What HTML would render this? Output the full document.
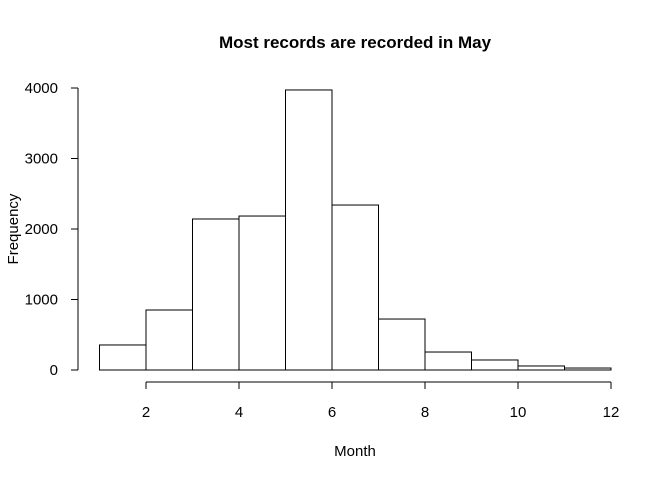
<!DOCTYPE html>
<html><head><meta charset="utf-8"><style>
body{margin:0;background:#fff}
svg text{font-family:"Liberation Sans",Arial,sans-serif;fill:#000}
</style></head><body>
<svg width="672" height="480" viewBox="0 0 672 480">
<rect width="672" height="480" fill="#fff"/>
<text x="355" y="48" text-anchor="middle" font-size="17" font-weight="bold">Most records are recorded in May</text>
<text x="355" y="456" text-anchor="middle" font-size="15">Month</text>
<text x="0" y="0" transform="translate(18,229) rotate(-90)" text-anchor="middle" font-size="15">Frequency</text>
<g id="bars"></g>
<g id="xaxis"></g>
<g id="yaxis"></g>
</svg>
<script>
const binStarts=[1,2,3,4,5,6,7,8,9,10,11];
const counts=[355,851,2142,2184,3972,2340,723,255,142,57,28];
const xTicks=[2,4,6,8,10,12];
const yTicks=[0,1000,2000,3000,4000];
const NS="http://www.w3.org/2000/svg";
function xs(v){return 99.5+(v-1)*46.5;}
function ys(v){return 370-v*0.0705;}
function mk(tag,attrs,parent){const e=document.createElementNS(NS,tag);for(const k in attrs)e.setAttribute(k,attrs[k]);parent.appendChild(e);return e;}
const bars=document.getElementById('bars');
binStarts.forEach((b,i)=>{
 const r=mk('rect',{x:xs(b),y:ys(counts[i]),width:xs(b+1)-xs(b),height:ys(0)-ys(counts[i]),fill:'#fff',stroke:'#000','stroke-width':1},bars);
 
 
});
const xa=document.getElementById('xaxis');
const xl=mk('line',{x1:xs(xTicks[0]),x2:xs(xTicks[xTicks.length-1]),y1:382,y2:382,stroke:'#000'},xa);


xTicks.forEach(t=>{
 mk('line',{x1:xs(t),x2:xs(t),y1:382,y2:389,stroke:'#000'},xa);
 const tx=mk('text',{x:xs(t),y:417,'text-anchor':'middle','font-size':15},xa);
 tx.textContent=t;
 
 
});
const ya=document.getElementById('yaxis');
const yl=mk('line',{x1:78,x2:78,y1:ys(yTicks[0]),y2:ys(yTicks[yTicks.length-1]),stroke:'#000'},ya);


yTicks.forEach(t=>{
 mk('line',{x1:71,x2:78,y1:ys(t),y2:ys(t),stroke:'#000'},ya);
 const tx=mk('text',{x:58,y:ys(t)+5,'text-anchor':'end','font-size':15},ya);
 tx.textContent=t;
 
 
});
</script>
</body></html>
